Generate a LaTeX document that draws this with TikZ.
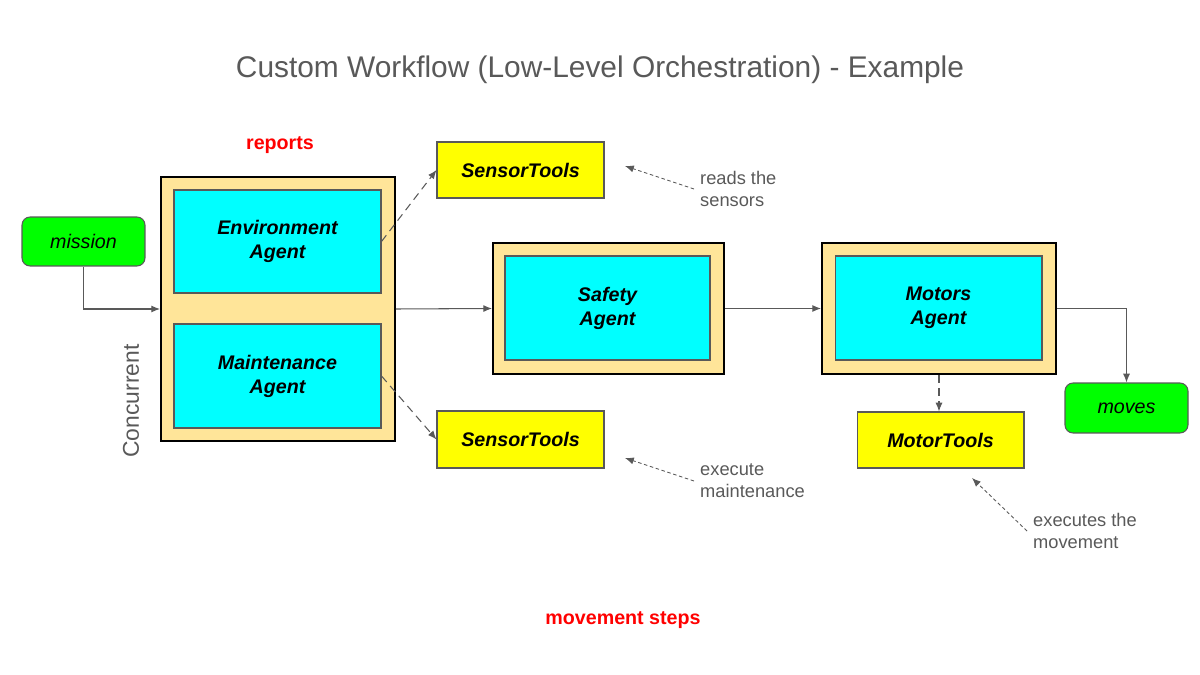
\documentclass[tikz,border=0pt]{standalone}
\usepackage{fontspec}
\setmainfont{Liberation Sans}
\usetikzlibrary{arrows.meta}
\definecolor{textgray}{HTML}{595959}
\definecolor{boxtan}{HTML}{FFE599}
\definecolor{agentcyan}{HTML}{00FFFF}
\definecolor{toolyellow}{HTML}{FFFF00}
\definecolor{endgreen}{HTML}{00FF00}
\definecolor{labelred}{HTML}{FF0000}
\begin{document}
\begin{tikzpicture}[x=0.02cm,y=-0.02cm,
  >={Latex[length=5pt,width=4pt]},
  outerbox/.style={draw=black,line width=1.1pt,fill=boxtan},
  agent/.style={draw=textgray,line width=0.6pt,fill=agentcyan,align=center,
    font=\fontsize{11.2}{13.7}\selectfont\bfseries\itshape},
  tool/.style={draw=textgray,line width=0.6pt,fill=toolyellow,minimum width=3.34cm,
    minimum height=1.12cm,font=\fontsize{11.2}{13.7}\selectfont\bfseries\itshape},
  terminal/.style={draw=textgray,line width=0.6pt,fill=endgreen,rounded corners=0.16cm,
    minimum width=2.46cm,minimum height=0.98cm,font=\fontsize{11.2}{13.7}\selectfont\itshape},
  note/.style={text=textgray,align=left,anchor=west,font=\fontsize{10.4}{12.5}\selectfont},
  redlabel/.style={text=labelred,font=\fontsize{11.2}{13.7}\selectfont\bfseries},
  flow/.style={draw=textgray,line width=0.6pt,->},
  calls/.style={draw=textgray,line width=0.6pt,dash pattern=on 4.5pt off 3pt,->},
  hint/.style={draw=textgray,line width=0.5pt,dash pattern=on 2pt off 1.5pt,->}]
  \useasboundingbox (0,0) rectangle (1200,675);

  % Title and red labels
  \node[text=textgray,font=\fontsize{17}{20}\selectfont] (title) at (600,70)
    {Custom Workflow (Low-Level Orchestration) - Example};
  \node[redlabel] (reports) at (280,145) {reports};
  \node[redlabel] (steps) at (623,620) {movement steps};

  % Input
  \node[terminal] (mission) at (83.5,241.5) {mission};

  % Concurrent group
  \node[outerbox,minimum width=4.68cm,minimum height=5.28cm] (concurrent) at (278,309) {};
  \node[agent,minimum width=4.14cm,minimum height=2.06cm] (env) at (277.5,241.5) {Environment\\Agent};
  \node[agent,minimum width=4.14cm,minimum height=2.08cm] (maint) at (277.5,376) {Maintenance\\Agent};
  \node[text=textgray,rotate=90,font=\fontsize{13}{15}\selectfont] (conclabel) at (131,401) {Concurrent};

  % Sensor tools
  \node[tool] (sensortop) at (520.5,170) {SensorTools};
  \node[tool,minimum height=1.14cm] (sensorbot) at (520.5,439.5) {SensorTools};

  % Safety agent
  \node[outerbox,minimum width=4.62cm,minimum height=2.62cm] (safetybox) at (608.5,308.5) {};
  \node[agent,minimum width=4.1cm,minimum height=2.08cm] (safety) at (607.5,308) {Safety\\Agent};

  % Motors agent
  \node[outerbox,minimum width=4.68cm,minimum height=2.62cm] (motorsbox) at (939,308.5) {};
  \node[agent,minimum width=4.14cm,minimum height=2.08cm] (motors) at (938.5,308) {Motors\\Agent};
  \node[tool] (motortools) at (940.5,440) {MotorTools};

  % Output
  \node[terminal,minimum height=1.0cm] (moves) at (1126.5,408) {moves};

  % Notes
  \node[note] (readnote) at (694,189) {reads the\\sensors};
  \node[note] (maintnote) at (694,481) {execute\\maintenance};
  \node[note] (movenote) at (1027,531) {executes the\\movement};
  \coordinate (readtip) at (625,166);
  \coordinate (mainttip) at (625,458);
  \coordinate (movetip) at (972,478);

  % Main flow
  \draw[flow] (mission.south) |- (concurrent.west);
  \draw[flow] (concurrent.east) -- (safetybox.west);
  \draw[flow] (safetybox.east) -- (motorsbox.west);
  \draw[flow] (motorsbox.east) -| (moves.north);

  % Tool calls
  \draw[calls] (env.east) -- (sensortop.west);
  \draw[calls] (maint.east) -- (sensorbot.west);
  \draw[calls] (motorsbox.south) -- (motorsbox.south |- motortools.north);

  % Note pointers
  \draw[hint] (readnote.west) -- (readtip);
  \draw[hint] (maintnote.west) -- (mainttip);
  \draw[hint] (movenote.west) -- (movetip);
\end{tikzpicture}
\end{document}
